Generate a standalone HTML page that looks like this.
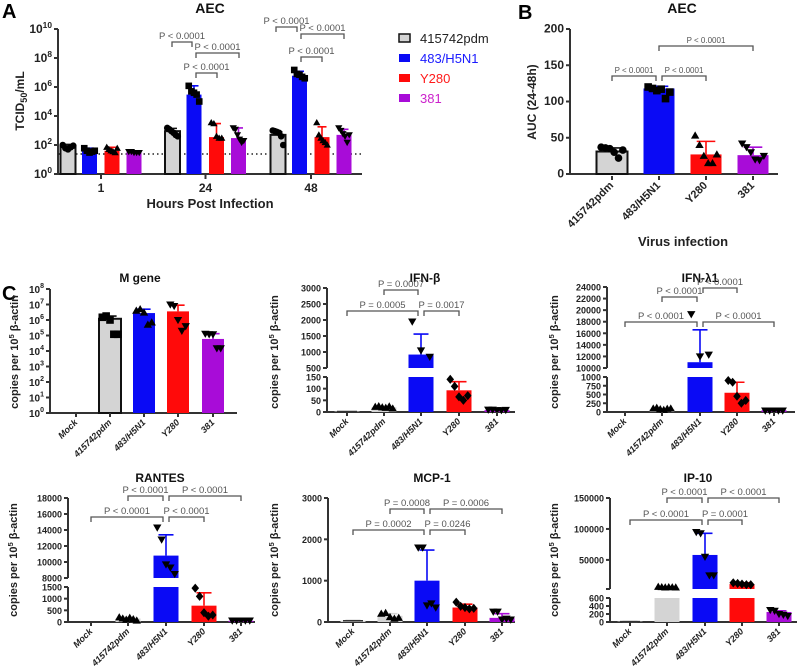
<!DOCTYPE html>
<html><head><meta charset="utf-8"><style>
html,body{margin:0;padding:0;background:#fff;}
svg{display:block;font-family:"Liberation Sans",sans-serif;}
</style></head><body>
<svg id="fig" width="800" height="671" viewBox="0 0 800 671" xmlns="http://www.w3.org/2000/svg"></svg>
<script>
// ---------- Panel A data ----------
const aTimes = ['1','24','48'];
const aViruses = ['415742pdm','483/H5N1','Y280','381'];
const aMeans = [[80,45,40,35],[900,300000,350,300],[500,6000000,350,500]];
const aErrs = [[110,60,70,35],[1400,1200000,3000,1500],[800,12000000,1800,1200]];
const aPoints = [
 [[100,60,50,70,90],[60,40,30,35,40],[70,50,40,35,30,60],[35,35,30,30,30]],
 [[1500,1200,900,700,500,400],[1200000,500000,400000,300000,100000],[3500,3000,400,300,300],[1500,1200,500,250,150,200]],
 [[1000,900,800,700,400,100],[15000000,8000000,7000000,5000000,4000000],[3500,500,300,200,150,100],[1500,1000,600,400,150,500]]
];
// ---------- Panel B data ----------
const bCats = ['415742pdm','483/H5N1','Y280','381'];
const bMeans = [31,118,27,26];
const bErrs = [36,121,45,37];
const bPoints = [[37,36,35,30,22,33],[120,118,115,117,104,113],[53,40,25,15,15,27],[42,37,30,20,19,25]];
const bTicks = [0,50,100,150,200];
// ---------- Panel C data ----------
const cCats = ['Mock','415742pdm','483/H5N1','Y280','381'];
const mMeans = [0,1200000,2800000,3600000,60000];
const mErrs = [0,1800000,5000000,9000000,130000];
const mPoints = [[],[1500000,1800000,1000000,120000,120000],[4000000,5000000,3000000,500000,700000],[10000000,8000000,1000000,200000,400000],[130000,120000,120000,15000,15000]];
const bMeansIFNb = [2,20,920,93,8];
const bErrsIFNb = [2,25,1560,130,9];
const bPtsIFNb = [[],[22,25,20,18,24,15],[1950,1050,850],[140,110,65,50,70],[10,10,8,8,9]];
const lMeans = [0,80,11000,550,50];
const lErrs = [0,100,16600,850,60];
const lPts = [[],[100,120,80,60,90,100],[19300,12000,12300],[900,850,450,250,330],[40,40,40,40,40]];
const rMeans = [0,150,10800,700,50];
const rErrs = [0,200,13400,1250,60];
const rPts = [[],[200,150,100,180,120,60],[14300,12800,9700,9300,8500],[1450,1100,400,250,300],[60,60,60,60,60]];
const cMeans = [30,150,1000,350,100];
const cErrs = [40,200,1740,430,200];
const cPts = [[],[200,220,120,80,100],[1800,1800,400,450,350],[480,380,350,320,330],[250,250,60,80,60]];
const iMeans = [10,5000,58000,11000,250];
const iErrs = [15,6500,93000,13000,280];
const iPts = [[],[6500,6000,5500,6000,5800,5500],[95000,93000,55000,25000,25000],[13000,12000,11000,10000,10000],[300,280,200,180,150]];

const NS='http://www.w3.org/2000/svg';
const svg=document.getElementById('fig');
function mk(tag,attrs,parent){const e=document.createElementNS(NS,tag);for(const k in attrs)e.setAttribute(k,attrs[k]);(parent||svg).appendChild(e);return e;}
function txt(x,y,s,attrs,parent){const e=mk('text',Object.assign({x:x,y:y},attrs),parent);e.textContent=s;return e;}

const COL={gray:'#d4d4d4',blue:'#0a0af5',red:'#ff0a0a',purple:'#a80cd8'};
const AX='#333';

function makeScale(segs){
  return function(v){
    let s=segs[segs.length-1];
    for(const sg of segs){ if(v<=sg.hi){s=sg;break;} }
    let t;
    if(s.log){ t=(Math.log10(Math.max(v,s.lo))-Math.log10(s.lo))/(Math.log10(s.hi)-Math.log10(s.lo)); }
    else { t=(v-s.lo)/(s.hi-s.lo); }
    return s.yLo+(s.yHi-s.yLo)*t;
  };
}

function marker(g,shape,x,y,r){
  let e;
  if(shape==='circle'){e=mk('circle',{cx:x,cy:y,r:r,fill:'#000'},g);}
  else if(shape==='square'){e=mk('rect',{x:x-r,y:y-r,width:2*r,height:2*r,fill:'#000'},g);}
  else if(shape==='tri'){e=mk('polygon',{points:`${x},${y-r*1.1} ${x-r*1.1},${y+r*0.8} ${x+r*1.1},${y+r*0.8}`,fill:'#000'},g);}
  else if(shape==='dtri'){e=mk('polygon',{points:`${x},${y+r*1.1} ${x-r*1.1},${y-r*0.8} ${x+r*1.1},${y-r*0.8}`,fill:'#000'},g);}
  else {e=mk('polygon',{points:`${x},${y-r*1.2} ${x+r},${y} ${x},${y+r*1.2} ${x-r},${y}`,fill:'#000'},g);}
  
  
}

function drawBarsGeneric(g,segs,scale,centers,w,means,errs,pts,colors,shapes,outlines,r){
  centers.forEach((cx,i)=>{
    const v=means[i];
    segs.forEach(s=>{
      if(v>s.lo || (s.log&&v>=s.lo&&v>0)){
        const top=scale(Math.min(v,s.hi));
        const yb=s.yLo;
        const rr=mk('rect',{x:cx-w/2,y:Math.min(top,yb),width:w,height:Math.abs(yb-top),fill:colors[i],stroke:outlines[i]?'#111':'none','stroke-width':outlines[i]?2:0},g);
        
        
      }
    });
    if(v>0 && errs[i]>v){
      const y0=scale(v),y1=scale(errs[i]);
      const el=mk('path',{d:`M${cx},${y0}V${y1}M${cx-w*0.3},${y1}H${cx+w*0.3}`,stroke:outlines[i]?'#111':colors[i],'stroke-width':1.6,fill:'none'},g);
      
      
    }
    const p=pts[i]||[];
    p.forEach((pv,j)=>{
      const off=(p.length>1)?(-w*0.35+ (w*0.7)*j/(p.length-1)):0;
      marker(g,shapes[i],cx+off,scale(pv),r);
    });
  });
}

function bracket(g,xa,xb,y,label,fs){
  const e=mk('path',{d:`M${xa},${y+5}V${y}H${xb}V${y+5}`,stroke:'#555','stroke-width':1.3,fill:'none'},g);
  
  
  const t=txt((xa+xb)/2,y-3,label,{'font-size':fs||9.5,fill:'#555','text-anchor':'middle'},g);
  
  
}

function yAxis(g,x,segs,scale,ticks,labels,fs,sup){
  segs.forEach(s=>{
    const a=mk('line',{x1:x,y1:s.yLo,x2:x,y2:s.yHi,stroke:AX,'stroke-width':2},g);
    
    
    if(segs.length>1){
      mk('line',{x1:x-4,y1:s.yLo,x2:x,y2:s.yLo,stroke:AX,'stroke-width':2},g);
      mk('line',{x1:x-4,y1:s.yHi,x2:x,y2:s.yHi,stroke:AX,'stroke-width':2},g);
    }
  });
  ticks.forEach((tv,i)=>{
    const y=scale(tv);
    mk('line',{x1:x-4,y1:y,x2:x,y2:y,stroke:AX,'stroke-width':2},g);
    let t;
    if(sup){
      t=txt(x-6,y+4,'10',{'font-size':fs,'font-weight':'bold',fill:'#222','text-anchor':'end'},g);
      const ts=mk('tspan',{dy:-5,'font-size':fs*0.7},t);ts.textContent=labels[i];
    } else {
      t=txt(x-6,y+3.5,labels[i],{'font-size':fs,'font-weight':'bold',fill:'#222','text-anchor':'end'},g);
    }
    
    
  });
}

function xAxis(g,x0,x1,y){
  const a=mk('line',{x1:x0,y1:y,x2:x1,y2:y,stroke:AX,'stroke-width':2},g);
  
  
}

function rotLabels(g,centers,y,labels,fs,italic){
  centers.forEach((cx,i)=>{
    mk('line',{x1:cx,y1:y,x2:cx,y2:y+4,stroke:AX,'stroke-width':2},g);
    const t=txt(cx+2,y+10,labels[i],{'font-size':fs,'font-weight':'bold','font-style':italic?'italic':'normal',fill:'#222','text-anchor':'end',transform:`rotate(-45 ${cx+2} ${y+10})`},g);
    
    
  });
}

function yTitle(g,x,y,fs){
  const t=txt(x,y,'copies per 10',{'font-size':fs,'font-weight':'bold',fill:'#222','text-anchor':'middle',transform:`rotate(-90 ${x} ${y})`},g);
  const s=mk('tspan',{dy:-4,'font-size':fs*0.7},t);s.textContent='5';
  const s2=mk('tspan',{dy:4},t);s2.textContent=' β-actin';
  
  
}

function title(g,x,y,s,fs){
  const t=txt(x,y,s,{'font-size':fs||12,'font-weight':'bold',fill:'#111','text-anchor':'middle'},g);
  
  
}

// ================= Panel A =================
(function(){
  const g=mk('g',{});
  
  
  const L=txt(2,18,'A',{'font-size':20,'font-weight':'bold'},g);
  
  title(g,210,13,'AEC',14);
  const segs=[{lo:1,hi:1e10,yLo:174,yHi:29,log:true}];
  const sc=makeScale(segs);
  yAxis(g,58,segs,sc,[1,1e2,1e4,1e6,1e8,1e10],['0','2','4','6','8','10'],12,true);
  xAxis(g,58,362,174);
  const dl=mk('line',{x1:58,y1:sc(24),x2:362,y2:sc(24),stroke:'#222','stroke-width':1.5,'stroke-dasharray':'1.5 3'},g);
  
  const groupCenters=[101,205.5,311];
  const offs=[-33,-11.5,11,33];
  const colors=[COL.gray,COL.blue,COL.red,COL.purple];
  const shapes=['circle','square','tri','dtri'];
  aTimes.forEach((tm,gi)=>{
    const centers=offs.map(o=>groupCenters[gi]+o);
    drawBarsGeneric(g,segs,sc,centers,15,aMeans[gi],aErrs[gi],aPoints[gi],colors,shapes,[true,false,false,false],3.3);
    const t=txt(groupCenters[gi],192,tm,{'font-size':12,'font-weight':'bold','text-anchor':'middle',fill:'#222'},g);
    
    mk('line',{x1:groupCenters[gi],y1:174,x2:groupCenters[gi],y2:179,stroke:AX,'stroke-width':2},g);
  });
  bracket(g,172,192,42,'P < 0.0001');
  bracket(g,196,239,53,'P < 0.0001');
  bracket(g,196,217,73,'P < 0.0001');
  bracket(g,276,297,27,'P < 0.0001');
  bracket(g,301,344,34,'P < 0.0001');
  bracket(g,301,322,57,'P < 0.0001');
  const xt=txt(210,208,'Hours Post Infection',{'font-size':13,'font-weight':'bold','text-anchor':'middle',fill:'#222'},g);
  
  const yt=txt(24,101,'TCID',{'font-size':12,'font-weight':'bold','text-anchor':'middle',fill:'#222',transform:'rotate(-90 24 101)'},g);
  const s1=mk('tspan',{dy:3,'font-size':9},yt);s1.textContent='50';
  const s2=mk('tspan',{dy:-3},yt);s2.textContent='/mL';
  
})();

// ================= Legend =================
(function(){
  const g=mk('g',{});
  
  
  const cols=[COL.gray,COL.blue,COL.red,COL.purple];
  const tcols=['#222','#1a1aff','#ff1a1a','#cc22cc'];
  const ys=[38,58,78,98];
  aViruses.forEach((v,i)=>{
    const r=mk('rect',{x:399,y:ys[i]-4,width:11,height:8,fill:cols[i],stroke:i===0?'#111':'none','stroke-width':i===0?1.5:0},g);
    
    const t=txt(420,ys[i]+5,v,{'font-size':13,fill:tcols[i]},g);
    
  });
})();

// ================= Panel B =================
(function(){
  const g=mk('g',{});
  
  
  const L=txt(518,19,'B',{'font-size':20,'font-weight':'bold'},g);
  
  title(g,682,13,'AEC',14);
  const segs=[{lo:0,hi:200,yLo:174,yHi:29}];
  const sc=makeScale(segs);
  yAxis(g,570,segs,sc,bTicks,bTicks.map(String),12,false);
  xAxis(g,570,778,174);
  const centers=[612,659,706,753];
  drawBarsGeneric(g,segs,sc,centers,31,bMeans,bErrs,bPoints,[COL.gray,COL.blue,COL.red,COL.purple],['circle','square','tri','dtri'],[true,false,false,false],3.8);
  rotLabels(g,centers,176,bCats,11,false);
  bracket(g,612,656,76,'P < 0.0001',8);
  bracket(g,662,706,76,'P < 0.0001',8);
  bracket(g,659,753,46,'P < 0.0001',8);
  const xt=txt(683,246,'Virus infection',{'font-size':13,'font-weight':'bold','text-anchor':'middle',fill:'#222'},g);
  
  const yt=txt(536,102,'AUC (24-48h)',{'font-size':12,'font-weight':'bold','text-anchor':'middle',fill:'#222',transform:'rotate(-90 536 102)'},g);
  
})();

// ================= Panel C =================
const CL=txt(2,300,'C',{'font-size':20,'font-weight':'bold'});


function cPanel(name,ttl,tx,ty,axisX,axisEnd,segs,ticks,labels,sup,centers,w,means,errs,pts,shapes,grayOutline,ytx,yty,brs){
  const g=mk('g',{});
  
  
  title(g,tx,ty,ttl,12);
  const sc=makeScale(segs);
  yAxis(g,axisX,segs,sc,ticks,labels,sup?10:9,sup);
  const base=segs[0].yLo;
  xAxis(g,axisX,axisEnd,base);
  drawBarsGeneric(g,segs,sc,centers,w,means,errs,pts,[COL.gray,COL.gray,COL.blue,COL.red,COL.purple],shapes,[false,grayOutline,false,false,false],3.8);
  if(means[0]>0){const m=mk('line',{x1:centers[0]-w*0.4,y1:sc(means[0]),x2:centers[0]+w*0.4,y2:sc(means[0]),stroke:'#333','stroke-width':1.5},g);
    }
  rotLabels(g,centers,base,cCats,9,true);
  yTitle(g,ytx,yty,11);
  brs.forEach(b=>bracket(g,centers[b[0]]+(b[0]===2?3:0),centers[b[1]]-(b[1]===2?3:0),b[2],b[3]));
}

cPanel('m-gene-chart','M gene',140,282,50,237,
  [{lo:1,hi:1e8,yLo:413,yHi:289,log:true}],
  [1,1e1,1e2,1e3,1e4,1e5,1e6,1e7,1e8],['0','1','2','3','4','5','6','7','8'],true,
  [76,110,144,178,213],22,mMeans,mErrs,mPoints,['square','square','tri','dtri','dtri'],true,18,352,[]);

cPanel('ifn-beta-chart','IFN-β',425,282,327,515,
  [{lo:0,hi:150,yLo:412,yHi:377},{lo:500,hi:3000,yLo:368,yHi:288}],
  [0,50,100,150,500,1000,1500,2000,2500,3000],['0','50','100','150','500','1000','1500','2000','2500','3000'],false,
  [347,384,421,459,497],25,bMeansIFNb,bErrsIFNb,bPtsIFNb,['tri','tri','dtri','diamond','dtri'],false,278,352,
  [[1,2,290,'P = 0.0007'],[0,2,311,'P = 0.0005'],[2,3,311,'P = 0.0017']]);

cPanel('ifn-lambda1-chart','IFN-λ1',700,282,607,795,
  [{lo:0,hi:1000,yLo:412,yHi:377},{lo:10000,hi:24000,yLo:368,yHi:287}],
  [0,250,500,750,1000,10000,12000,14000,16000,18000,20000,22000,24000],['0','250','500','750','1000','10000','12000','14000','16000','18000','20000','22000','24000'],false,
  [625,662,700,737,774],25,lMeans,lErrs,lPts,['tri','tri','dtri','diamond','dtri'],false,558,352,
  [[1,2,297,'P < 0.0001'],[2,3,288,'P < 0.0001'],[0,2,322,'P < 0.0001'],[2,4,322,'P < 0.0001']]);

cPanel('rantes-chart','RANTES',160,482,68,255,
  [{lo:0,hi:1500,yLo:622,yHi:587},{lo:8000,hi:18000,yLo:578,yHi:498}],
  [0,500,1000,1500,8000,10000,12000,14000,16000,18000],['0','500','1000','1500','8000','10000','12000','14000','16000','18000'],false,
  [91,128,166,204,241],25,rMeans,rErrs,rPts,['tri','tri','dtri','diamond','dtri'],false,17,560,
  [[1,2,496,'P < 0.0001'],[2,4,496,'P < 0.0001'],[0,2,517,'P < 0.0001'],[2,3,517,'P < 0.0001']]);

cPanel('mcp1-chart','MCP-1',432,482,328,515,
  [{lo:0,hi:3000,yLo:622,yHi:498}],
  [0,1000,2000,3000],['0','1000','2000','3000'],false,
  [353,390,427,465,502],25,cMeans,cErrs,cPts,['tri','tri','dtri','diamond','dtri'],false,278,560,
  [[1,2,509,'P = 0.0008'],[2,4,509,'P = 0.0006'],[0,2,530,'P = 0.0002'],[2,3,530,'P = 0.0246']]);

cPanel('ip10-chart','IP-10',698,482,610,797,
  [{lo:0,hi:600,yLo:622,yHi:598},{lo:3000,hi:150000,yLo:589,yHi:498}],
  [0,200,400,600,50000,100000,150000],['0','200','400','600','50000','100000','150000'],false,
  [630,667,705,742,779],25,iMeans,iErrs,iPts,['tri','tri','dtri','diamond','dtri'],false,558,560,
  [[1,2,498,'P < 0.0001'],[2,4,498,'P < 0.0001'],[0,2,520,'P < 0.0001'],[2,3,520,'P = 0.0001']]);
</script>
</body></html>
